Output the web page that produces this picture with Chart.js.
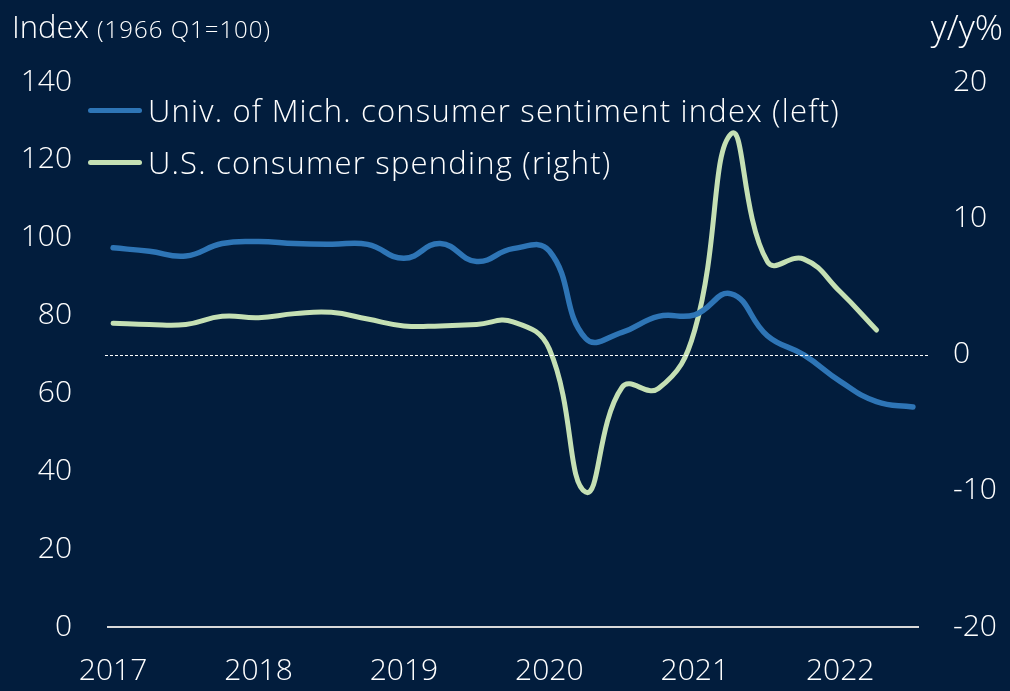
<!DOCTYPE html>
<html>
<head>
<meta charset="utf-8">
<script src="https://cdn.jsdelivr.net/npm/chart.js@4.4.0/dist/chart.umd.min.js"></script>
<style>
  html, body { margin: 0; padding: 0; background: #021d3d; }
  #wrap { position: relative; width: 1010px; height: 691px; font-family: "Open Sans", sans-serif; font-weight: 300; color: #ffffff; }
  canvas { position: absolute; left: 0; top: 0; }
  .ttl { position: absolute; top: 5px; font-size: 31px; white-space: nowrap; }
  .ttl small { font-size: 24px; letter-spacing: 1px; }
  #legend { position: absolute; left: 88px; top: 84px; }
  .item { display: flex; align-items: center; height: 52px; font-size: 31px; letter-spacing: 1.2px; white-space: nowrap; }
  .swatch { width: 54px; height: 5px; border-radius: 3px; margin-right: 6px; }
</style>
</head>
<body>
<div id="wrap">
  <canvas id="myChart" width="1010" height="691"></canvas>
  <div class="ttl" style="left:12px">Index <small>(1966 Q1=100)</small></div>
  <div class="ttl" style="right:7px; top:3px; font-size:35px">y/y%</div>
  <div id="legend"></div>
</div>
<script>
// quarterly data, 2017 Q1 .. 2022 Q3
const quarters = [
  "2017 Q1", "2017 Q2", "2017 Q3", "2017 Q4",
  "2018 Q1", "2018 Q2", "2018 Q3", "2018 Q4",
  "2019 Q1", "2019 Q2", "2019 Q3", "2019 Q4",
  "2020 Q1", "2020 Q2", "2020 Q3", "2020 Q4",
  "2021 Q1", "2021 Q2", "2021 Q3", "2021 Q4",
  "2022 Q1", "2022 Q2", "2022 Q3"
];
const yearLabels = ["2017", "2018", "2019", "2020", "2021", "2022"];

// Univ. of Michigan consumer sentiment (left axis)
const sentiment = [
  97.4, 96.5, 95.3, 98.5,
  99.0, 98.5, 98.3, 98.3,
  94.7, 98.5, 93.9, 97.2,
  96.6, 74.1, 75.7, 79.8,
  80.2, 85.6, 74.8, 69.9,
  63.1, 57.9, 56.5
];
// U.S. consumer spending, y/y % (right axis)
const spending = [
  2.3, 2.2, 2.2, 2.8,
  2.7, 3.0, 3.1, 2.6,
  2.1, 2.1, 2.2, 2.4,
  0.4, -10.1, -2.4, -2.5,
  1.8, 16.2, 6.8, 7.0,
  4.6, 1.8
];

const leftTicks = [0, 20, 40, 60, 80, 100, 120, 140];
const rightTicks = [-20, -10, 0, 10, 20];

const seriesNames = [
  "Univ. of Mich. consumer sentiment index (left)",
  "U.S. consumer spending (right)"
];
const seriesColors = ["#2e75b6", "#c5e0b4"];

const tickFont = { family: "Open Sans", size: 30, weight: 300 };

// dashed line at 0 on the right axis
const zeroLine = {
  id: "zeroLine",
  afterDatasetsDraw(chart) {
    const ctx = chart.ctx;
    const y = Math.round(chart.scales.y2.getPixelForValue(0)) + 0.5;
    ctx.save();
    ctx.strokeStyle = "#ffffff";
    ctx.lineWidth = 1.2;
    ctx.setLineDash([3, 2]);
    ctx.beginPath();
    ctx.moveTo(chart.chartArea.left - 3, y);
    ctx.lineTo(chart.chartArea.right + 12, y);
    ctx.stroke();
    ctx.restore();
  }
};

const ctx = document.getElementById("myChart").getContext("2d");
const chart = new Chart(ctx, {
  type: "line",
  data: {
    datasets: [
      {
        label: seriesNames[0],
        data: sentiment.map((v, i) => ({ x: i, y: v })),
        borderColor: seriesColors[0],
        borderWidth: 5.5,
        yAxisID: "y",
        tension: 0.45,
        pointRadius: 0,
        borderCapStyle: "round",
        borderJoinStyle: "round"
      },
      {
        label: seriesNames[1],
        data: spending.map((v, i) => ({ x: i, y: v })),
        borderColor: seriesColors[1],
        borderWidth: 5,
        yAxisID: "y2",
        tension: 0.45,
        pointRadius: 0,
        borderCapStyle: "round",
        borderJoinStyle: "round"
      }
    ]
  },
  options: {
    responsive: false,
    animation: false,
    layout: { padding: { top: 82, left: 0, right: 0, bottom: 0 } },
    plugins: {
      legend: { display: false },
      tooltip: { enabled: false }
    },
    scales: {
      x: {
        type: "linear",
        min: -0.14,
        max: quarters.length - 1 + 0.14,
        afterBuildTicks: (axis) => {
          axis.ticks = yearLabels.map((_, i) => ({ value: i * 4 }));
        },
        afterFit: (axis) => { axis.height = 64; },
        grid: { display: false, drawTicks: false },
        border: { display: true, color: "#d9d9d9", width: 2 },
        ticks: {
          color: "#ffffff",
          font: tickFont,
          padding: 26,
          maxRotation: 0,
          autoSkip: false,
          callback: (v) => yearLabels[v / 4]
        }
      },
      y: {
        position: "left",
        min: 0,
        max: 140,
        afterBuildTicks: (axis) => {
          axis.ticks = leftTicks.map((v) => ({ value: v }));
        },
        afterFit: (axis) => { axis.width = 108; },
        grid: { display: false, drawTicks: false },
        border: { display: false },
        ticks: { color: "#ffffff", font: tickFont, padding: 36 }
      },
      y2: {
        position: "right",
        min: -20,
        max: 20,
        afterBuildTicks: (axis) => {
          axis.ticks = rightTicks.map((v) => ({ value: v }));
        },
        afterFit: (axis) => { axis.width = 92; },
        grid: { display: false, drawTicks: false },
        border: { display: false },
        ticks: { color: "#ffffff", font: tickFont, padding: 35 }
      }
    }
  },
  plugins: [zeroLine]
});

// legend built from the datasets
const legend = document.getElementById("legend");
chart.data.datasets.forEach((ds) => {
  const row = document.createElement("div");
  row.className = "item";
  const sw = document.createElement("span");
  sw.className = "swatch";
  sw.style.background = ds.borderColor;
  const txt = document.createElement("span");
  txt.textContent = ds.label;
  row.appendChild(sw);
  row.appendChild(txt);
  legend.appendChild(row);
});
</script>
</body>
</html>
